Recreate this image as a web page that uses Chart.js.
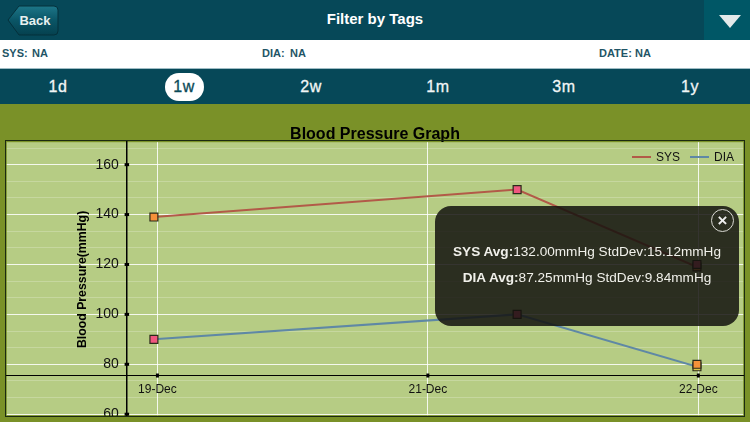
<!DOCTYPE html>
<html>
<head>
<meta charset="utf-8">
<script src="https://cdn.jsdelivr.net/npm/chart.js@4"></script>
<style>
html, body { margin: 0; padding: 0; background: #7a9128; }
body { width: 750px; height: 422px; position: relative; overflow: hidden; font-family: "Liberation Sans", Arial, sans-serif; }
.abs { position: absolute; }
#header { left: 0; top: 0; width: 750px; height: 40px; background: #064858; }
#filterTitle { left: 0; top: 0; width: 750px; line-height: 38px; text-align: center; color: #fff; font-weight: bold; font-size: 15px; }
#dropBtn { left: 704px; top: 0; width: 46px; height: 40px; background: #005766; }
#dropTri { left: 719px; top: 15px; width: 22px; height: 13px; background: #e4eaea; clip-path: polygon(0 0, 100% 0, 50% 100%); }
#infoRow { left: 0; top: 40px; width: 750px; height: 28px; background: #fff; border-bottom: 1px solid #9fbcc4; box-sizing: content-box; }
.info { top: 46px; font-size: 11px; line-height: 14px; font-weight: bold; color: #1f5566; white-space: pre; }
#tabs { left: 0; top: 69px; width: 750px; height: 35px; background: #064858; }
.tab { top: 73px; width: 60px; margin-left: -30px; text-align: center; line-height: 28px; font-size: 16px; color: #f2f6f6; letter-spacing: 0.6px; -webkit-text-stroke: 0.3px currentColor; }
.tab.on { width: 39px; margin-left: -19.5px; background: #fff; border-radius: 14px; color: #0b4a58; }
#chartBox { left: 0; top: 104px; width: 750px; height: 318px; }
#frame { left: 5px; top: 140px; width: 738px; height: 275px; border: 1px solid #1c2a10; pointer-events: none; }
#strip { left: 0; top: 417px; width: 750px; height: 5px; background: #7a9128; }
#legend { left: 632px; top: 150px; font-size: 12px; line-height: 14px; color: #111; white-space: nowrap; display: flex; }
#legend i { display: inline-block; width: 19px; height: 2px; margin: 6px 5px 0 0; }
#legend span { margin-right: 10px; display: flex; }
#overlay { left: 435px; top: 206px; width: 304px; height: 120px; background: rgba(19,18,14,0.85); border-radius: 16px; }
.stat { left: 0; width: 304px; text-align: center; color: #f0f0ea; font-size: 13.6px; line-height: 18px; white-space: nowrap; }
#closeBtn { left: 276px; top: 3px; width: 21px; height: 21px; border: 1px solid #d8d8d2; border-radius: 50%; color: #eee; font-size: 17px; font-weight: bold; line-height: 21px; text-align: center; }
</style>
</head>
<body>
<div class="abs" id="header"></div>
<div class="abs" id="dropBtn"></div>
<div class="abs" id="dropTri"></div>
<div class="abs" id="filterTitle">Filter by Tags</div>
<svg class="abs" style="left:6px;top:4px" width="54" height="33">
  <defs><linearGradient id="backFill" x1="0" y1="0" x2="0" y2="1">
    <stop offset="0" stop-color="#1d7688"/><stop offset="0.5" stop-color="#0a5566"/><stop offset="1" stop-color="#05414f"/>
  </linearGradient></defs>
  <path d="M2 16 L13 2 H48 Q52 2 52 6 V27 Q52 31 48 31 H13 Z" fill="url(#backFill)" stroke="#04303b" stroke-width="1"/>
  <text x="29" y="21" text-anchor="middle" fill="#e8f0f0" font-family="Liberation Sans" font-weight="bold" font-size="13">Back</text>
</svg>
<div class="abs" id="infoRow"></div>
<div class="abs info" style="left:2px">SYS:</div><div class="abs info" style="left:32px">NA</div>
<div class="abs info" style="left:262px">DIA:</div><div class="abs info" style="left:290px">NA</div>
<div class="abs info" style="left:599px">DATE:</div><div class="abs info" style="left:635px">NA</div>
<div class="abs" id="tabs"></div>
<div id="tabHolder"></div>
<div class="abs" id="chartBox"><canvas id="bpChart"></canvas></div>
<div class="abs" id="strip"></div>
<div class="abs" id="frame"></div>
<div class="abs" id="legend"></div>
<div class="abs" id="overlay">
  <div class="abs" id="closeBtn">×</div>
  <div class="abs stat" style="top:37px"><b>SYS Avg:</b>132.00mmHg StdDev:15.12mmHg</div>
  <div class="abs stat" style="top:63px"><b>DIA Avg:</b>87.25mmHg StdDev:9.84mmHg</div>
</div>
<script>
var tabLabels = ['1d', '1w', '2w', '1m', '3m', '1y'];
var tabCenters = [58, 184, 311, 438, 564, 690];
var activeTab = '1w';

var xTickValues = [0, 1, 2];
var xTickLabels = ['19-Dec', '21-Dec', '22-Dec'];
var yMajorTicks = [60, 80, 100, 120, 140, 160];
var yMinorTicks = [66.67, 73.33, 86.67, 93.33, 106.67, 113.33, 126.67, 133.33, 146.67, 153.33, 166.67];

var readingX = [-0.013, 1.33, 1.995, 1.995];
var sysValues = [139, 150, 119, 120];
var diaValues = [90, 100, 79, 80];
var sysPointColors = ['#f5913a', '#f0577f', '#f5913a', '#f0577f'];
var diaPointColors = ['#f0577f', '#f0577f', '#d8c24a', '#f5913a'];

var sysColor = '#b25a48';
var diaColor = '#5f88a5';

tabLabels.forEach(function (label, i) {
    var el = document.createElement('div');
    el.className = 'abs tab' + (label === activeTab ? ' on' : '');
    el.style.left = tabCenters[i] + 'px';
    el.textContent = label;
    document.getElementById('tabHolder').appendChild(el);
});

function toPoints(values) {
    return values.map(function (v, i) { return { x: readingX[i], y: v }; });
}

// the y labels stick out of the scale, keep them from shrinking the plot
function noScalePadding(scale) {
    scale.paddingTop = 0;
    scale.paddingBottom = 0;
    scale.paddingLeft = 0;
    scale.paddingRight = 0;
}

// plot background, tick squares and the rotated axis title
var axisExtras = {
    id: 'axisExtras',
    beforeDraw: function (chart) {
        var a = chart.chartArea;
        chart.ctx.fillStyle = '#b6cc84';
        chart.ctx.fillRect(a.left, a.top, a.right - a.left, a.bottom - a.top);
    },
    afterDatasetsDraw: function (chart) {
        var ctx = chart.ctx, sx = chart.scales.x, sy = chart.scales.y;
        var axisX = sx.getPixelForValue(-0.114), axisY = sy.getPixelForValue(75.5);
        ctx.save();
        ctx.fillStyle = '#000';
        yMajorTicks.forEach(function (v) {
            ctx.fillRect(axisX - 2, sy.getPixelForValue(v) - 1.5, 4.5, 3);
        });
        xTickValues.forEach(function (v) {
            ctx.fillRect(sx.getPixelForValue(v) - 1.5, axisY - 2, 3, 4);
        });
        ctx.translate(83, sy.getPixelForValue(114));
        ctx.rotate(-Math.PI / 2);
        ctx.font = 'bold 12.3px "Liberation Sans"';
        ctx.textAlign = 'center';
        ctx.textBaseline = 'middle';
        ctx.fillStyle = '#000';
        ctx.fillText('Blood Pressure(mmHg)', 0, 0);
        ctx.restore();
    },
};

var chart = new Chart(document.getElementById('bpChart'), {
    type: 'line',
    data: {
        datasets: [{
            label: 'SYS',
            data: toPoints(sysValues),
            borderColor: sysColor,
            borderWidth: 2,
            tension: 0,
            pointStyle: 'rect',
            pointRadius: 5.6,
            pointBorderWidth: 1.2,
            pointBorderColor: '#2a2a1a',
            pointBackgroundColor: sysPointColors,
        }, {
            label: 'DIA',
            data: toPoints(diaValues),
            borderColor: diaColor,
            borderWidth: 2,
            tension: 0,
            pointStyle: 'rect',
            pointRadius: 5.6,
            pointBorderWidth: 1.2,
            pointBorderColor: '#2a2a1a',
            pointBackgroundColor: diaPointColors,
        }],
    },
    options: {
        responsive: true,
        maintainAspectRatio: false,
        animation: false,
        layout: { padding: { left: 6, right: 6, bottom: 6, top: 0 } },
        plugins: {
            legend: { display: false },
            tooltip: { enabled: false },
            title: {
                display: true,
                text: 'Blood Pressure Graph',
                color: '#000',
                font: { family: 'Liberation Sans', size: 16, weight: 'bold' },
                padding: { top: 21, bottom: -2 },
            },
        },
        scales: {
            x: {
                type: 'linear',
                min: -0.557,
                max: 2.166,
                position: { y: 75.5 },
                afterBuildTicks: function (scale) {
                    scale.ticks = xTickValues.map(function (v) { return { value: v }; });
                },
                afterFit: noScalePadding,
                border: { color: '#000', width: 1 },
                grid: { color: 'rgba(255,255,255,0.85)', lineWidth: 1, drawTicks: false },
                ticks: {
                    color: '#111',
                    font: { family: 'Liberation Sans', size: 12 },
                    maxRotation: 0,
                    padding: 7,
                    callback: function (v) { return xTickLabels[xTickValues.indexOf(v)]; },
                },
            },
            y: {
                type: 'linear',
                min: 59.6,
                max: 169,
                position: { x: -0.114 },
                afterBuildTicks: function (scale) {
                    scale.ticks = yMajorTicks.concat(yMinorTicks).map(function (v) { return { value: v }; });
                },
                afterFit: noScalePadding,
                border: { color: '#000', width: 1.5 },
                grid: {
                    drawTicks: false,
                    lineWidth: 1,
                    color: function (ctx) {
                        return yMajorTicks.indexOf(ctx.tick.value) >= 0 ? 'rgba(255,255,255,0.85)' : 'rgba(255,255,255,0.22)';
                    },
                },
                ticks: {
                    color: '#111',
                    font: { family: 'Liberation Sans', size: 14 },
                    autoSkip: false,
                    callback: function (v) { return yMajorTicks.indexOf(v) >= 0 ? v + '\u00a0\u00a0' : ''; },
                },
            },
        },
    },
    plugins: [axisExtras],
});

var legendEl = document.getElementById('legend');
chart.data.datasets.forEach(function (ds) {
    var item = document.createElement('span');
    var swatch = document.createElement('i');
    swatch.style.background = ds.borderColor;
    item.appendChild(swatch);
    item.appendChild(document.createTextNode(ds.label));
    legendEl.appendChild(item);
});
</script>
</body>
</html>
